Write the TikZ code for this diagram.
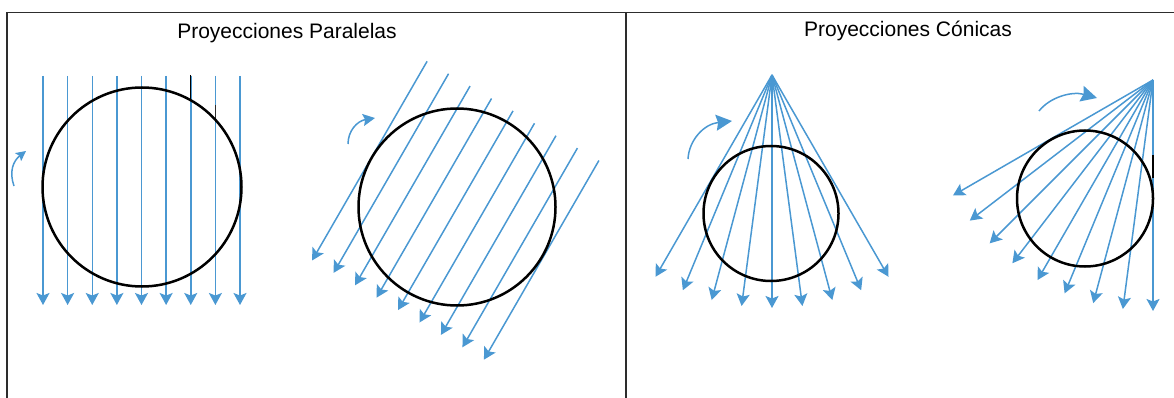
\documentclass[tikz,border=0pt]{standalone}
\usepackage{fontspec}
\setmainfont{Liberation Sans}
\usetikzlibrary{arrows.meta}
\definecolor{rayblue}{RGB}{74,152,210}
\definecolor{framegray}{RGB}{45,45,45}
\begin{document}
\begin{tikzpicture}[x=1pt,y=-1pt,
  ray/.style={rayblue, line width=1.5pt, -{Stealth[length=12pt,width=13pt,inset=2.5pt]}},
  turn/.style={rayblue, line width=1.5pt, -{Stealth[length=#1,width=#1,inset=2pt]}},
  turn/.default=10pt,
  ball/.style={black, line width=2.5pt},
  framel/.style={framegray, line width=1.5pt},
  title/.style={font=\fontsize{21}{25}\selectfont, inner sep=0pt}]
\useasboundingbox (0,0) rectangle (1174,398);
% frame
\draw[framel] (7,398) -- (7,12.5) -- (1174,12.5);
\draw[framel] (626,12.5) -- (626,398);
% titles
\node[title] (t1) at (287,33) {Proyecciones Paralelas};
\node[title] (t2) at (908,31) {Proyecciones Cónicas};
% panel 1: parallel vertical
\foreach \i in {0,...,8}
  \draw[ray] ({43+24.625*\i},76) -- ({43+24.625*\i},305);
\draw[black, line width=1.2pt] (190.75,75) -- (190.75,100);
\draw[framegray, line width=1.2pt] (215.4,105) -- (215.4,122);
\draw[ball] (142,187) circle (99.5);
\coordinate (r1a) at (14,186);
\coordinate (r1b) at (26,151);
\draw[turn=10pt] (r1a) .. controls (9,172) and (13,161) .. (r1b);
% panel 2: parallel oblique
\foreach \i in {0,...,8}
  \draw[ray] ({455.5+(\i-4)*24.8*0.866+57.5},{210.5+(\i-4)*24.8*0.5-99.6})
          -- ({455.5+(\i-4)*24.8*0.866-57.5},{210.5+(\i-4)*24.8*0.5+99.6});
\draw[ball] (457,207) circle (98.5);
\coordinate (r2a) at (348,144);
\coordinate (r2b) at (375,118);
\draw[turn=12pt] (r2a) .. controls (348,131) and (357,121) .. (r2b);
% panel 3: conic
\coordinate (A3) at (772,75);
\foreach \a in {-30,-22.5,...,30}
  \draw[ray] (A3) -- ++({233*sin(\a)},{233*cos(\a)});
\draw[ball] (771,213.5) circle (67.5);
\coordinate (r3a) at (688,159);
\coordinate (r3b) at (732,121);
\draw[turn=16pt] (r3a) .. controls (689,140) and (704,124) .. (r3b);
% panel 4: conic rotated
\coordinate (A4) at (1153,80);
\foreach \a in {0,7.5,...,60}
  \draw[ray] (A4) -- ++({-231*sin(\a)},{231*cos(\a)});
\draw[black, line width=1.2pt] (1153,155) -- (1153,178);
\draw[ball] (1085,198.5) circle (68);
\coordinate (r4a) at (1039,111);
\coordinate (r4b) at (1097,98);
\draw[turn=16pt] (r4a) .. controls (1050,97) and (1072,91) .. (r4b);
\end{tikzpicture}
\end{document}
